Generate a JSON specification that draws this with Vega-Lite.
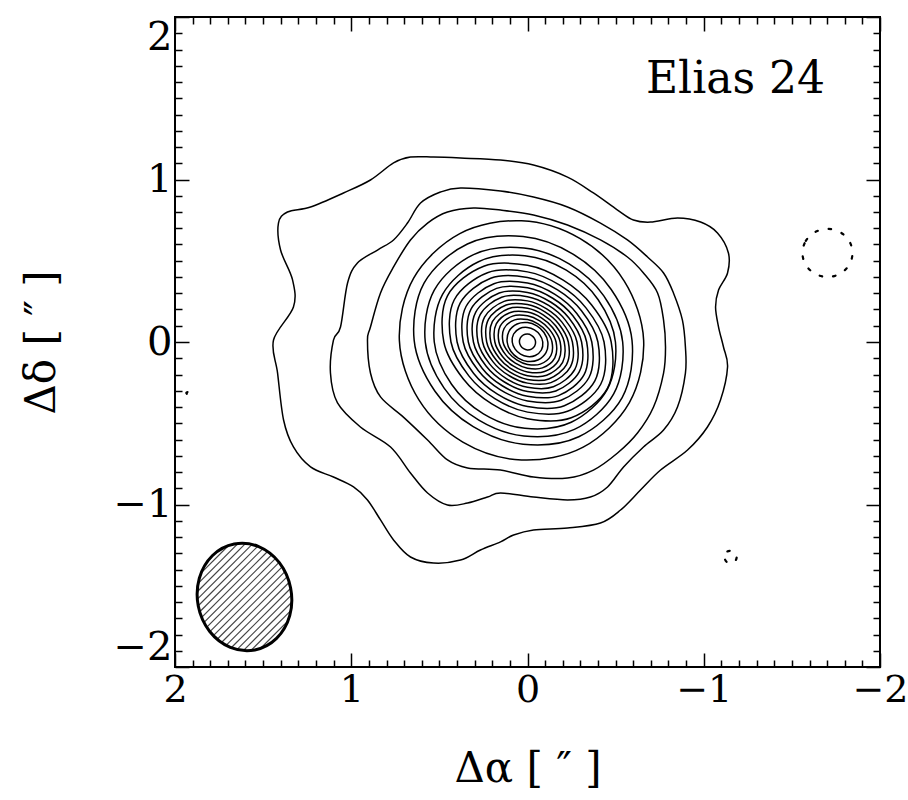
{
"$schema":"https://vega.github.io/schema/vega-lite/v6.json",
"width":705,"height":650,
"autosize":"none",
"padding":{"left":175,"top":17,"right":28,"bottom":133},
"background":"white",
"config":{"view":{"stroke":"black","strokeWidth":2},"font":"DejaVu Serif",
 "axis":{"tickColor":"black","tickWidth":1.5,"domain":false,"grid":false,"zindex":1,"labelColor":"black","titleColor":"black","labelFont":"DejaVu Serif","titleFont":"DejaVu Serif","titleFontWeight":"normal"}},
"datasets":{
"contours":[
{"c":1,"x":1.413,"y":0.732},{"c":1,"x":1.362,"y":0.80},{"c":1,"x":1.231,"y":0.831},{"c":1,"x":1.044,"y":0.917},{"c":1,"x":0.891,"y":0.997},{"c":1,"x":0.760,"y":1.102},{"c":1,"x":0.664,"y":1.138},{"c":1,"x":0.533,"y":1.138},{"c":1,"x":0.380,"y":1.132},{"c":1,"x":0.153,"y":1.120},{"c":1,"x":-0.034,"y":1.089},{"c":1,"x":-0.227,"y":1.015},{"c":1,"x":-0.374,"y":0.917},{"c":1,"x":-0.511,"y":0.812},{"c":1,"x":-0.601,"y":0.751},{"c":1,"x":-0.698,"y":0.738},{"c":1,"x":-0.851,"y":0.763},{"c":1,"x":-0.982,"y":0.738},{"c":1,"x":-1.078,"y":0.671},{"c":1,"x":-1.140,"y":0.548},{"c":1,"x":-1.135,"y":0.425},{"c":1,"x":-1.084,"y":0.320},{"c":1,"x":-1.067,"y":0.215},{"c":1,"x":-1.084,"y":0.092},{"c":1,"x":-1.112,"y":-0.031},{"c":1,"x":-1.135,"y":-0.154},{"c":1,"x":-1.095,"y":-0.357},{"c":1,"x":-1.021,"y":-0.523},{"c":1,"x":-0.908,"y":-0.665},{"c":1,"x":-0.755,"y":-0.788},{"c":1,"x":-0.641,"y":-0.911},{"c":1,"x":-0.528,"y":-1.034},{"c":1,"x":-0.414,"y":-1.114},{"c":1,"x":-0.227,"y":-1.145},{"c":1,"x":-0.034,"y":-1.157},{"c":1,"x":0.079,"y":-1.188},{"c":1,"x":0.153,"y":-1.230},{"c":1,"x":0.267,"y":-1.280},{"c":1,"x":0.380,"y":-1.342},{"c":1,"x":0.533,"y":-1.360},{"c":1,"x":0.664,"y":-1.323},{"c":1,"x":0.760,"y":-1.218},{"c":1,"x":0.834,"y":-1.095},{"c":1,"x":0.908,"y":-0.972},{"c":1,"x":0.987,"y":-0.892},{"c":1,"x":1.101,"y":-0.831},{"c":1,"x":1.231,"y":-0.769},{"c":1,"x":1.328,"y":-0.646},{"c":1,"x":1.384,"y":-0.480},{"c":1,"x":1.418,"y":-0.191},{"c":1,"x":1.441,"y":0.012},{"c":1,"x":1.328,"y":0.215},{"c":1,"x":1.333,"y":0.382},{"c":1,"x":1.401,"y":0.566},
{"c":2,"x":1.061,"y":0.092},{"c":2,"x":1.021,"y":0.363},{"c":2,"x":0.965,"y":0.486},{"c":2,"x":0.851,"y":0.566},{"c":2,"x":0.760,"y":0.628},{"c":2,"x":0.681,"y":0.732},{"c":2,"x":0.607,"y":0.855},{"c":2,"x":0.494,"y":0.923},{"c":2,"x":0.380,"y":0.948},{"c":2,"x":0.153,"y":0.929},{"c":2,"x":-0.034,"y":0.892},{"c":2,"x":-0.227,"y":0.831},{"c":2,"x":-0.414,"y":0.732},{"c":2,"x":-0.567,"y":0.628},{"c":2,"x":-0.681,"y":0.523},{"c":2,"x":-0.772,"y":0.425},{"c":2,"x":-0.828,"y":0.302},{"c":2,"x":-0.879,"y":0.135},{"c":2,"x":-0.896,"y":-0.031},{"c":2,"x":-0.896,"y":-0.191},{"c":2,"x":-0.851,"y":-0.400},{"c":2,"x":-0.772,"y":-0.542},{"c":2,"x":-0.658,"y":-0.646},{"c":2,"x":-0.545,"y":-0.769},{"c":2,"x":-0.454,"y":-0.892},{"c":2,"x":-0.357,"y":-0.954},{"c":2,"x":-0.227,"y":-0.972},{"c":2,"x":-0.034,"y":-0.954},{"c":2,"x":0.153,"y":-0.929},{"c":2,"x":0.227,"y":-0.954},{"c":2,"x":0.340,"y":-0.991},{"c":2,"x":0.454,"y":-1.003},{"c":2,"x":0.567,"y":-0.929},{"c":2,"x":0.664,"y":-0.806},{"c":2,"x":0.777,"y":-0.646},{"c":2,"x":0.948,"y":-0.523},{"c":2,"x":1.078,"y":-0.375},{"c":2,"x":1.118,"y":-0.191},{"c":2,"x":1.101,"y":0.012},
{"c":3,"x":0.891,"y":0.092},{"c":3,"x":0.834,"y":0.302},{"c":3,"x":0.760,"y":0.462},{"c":3,"x":0.664,"y":0.628},{"c":3,"x":0.567,"y":0.732},{"c":3,"x":0.454,"y":0.800},{"c":3,"x":0.306,"y":0.825},{"c":3,"x":0.153,"y":0.812},{"c":3,"x":-0.034,"y":0.782},{"c":3,"x":-0.227,"y":0.720},{"c":3,"x":-0.414,"y":0.628},{"c":3,"x":-0.567,"y":0.523},{"c":3,"x":-0.658,"y":0.425},{"c":3,"x":-0.738,"y":0.302},{"c":3,"x":-0.772,"y":0.135},{"c":3,"x":-0.783,"y":-0.031},{"c":3,"x":-0.772,"y":-0.191},{"c":3,"x":-0.715,"y":-0.400},{"c":3,"x":-0.624,"y":-0.560},{"c":3,"x":-0.511,"y":-0.683},{"c":3,"x":-0.374,"y":-0.788},{"c":3,"x":-0.227,"y":-0.837},{"c":3,"x":-0.034,"y":-0.831},{"c":3,"x":0.153,"y":-0.788},{"c":3,"x":0.340,"y":-0.775},{"c":3,"x":0.454,"y":-0.726},{"c":3,"x":0.567,"y":-0.603},{"c":3,"x":0.704,"y":-0.462},{"c":3,"x":0.834,"y":-0.338},{"c":3,"x":0.891,"y":-0.191},{"c":3,"x":0.908,"y":0.012},
{"c":4,"x":-0.659,"y":0.010},{"c":4,"x":-0.549,"y":0.375},{"c":4,"x":-0.299,"y":0.636},{"c":4,"x":0.034,"y":0.746},{"c":4,"x":0.384,"y":0.667},{"c":4,"x":0.646,"y":0.393},{"c":4,"x":0.727,"y":0.010},{"c":4,"x":0.617,"y":-0.355},{"c":4,"x":0.367,"y":-0.616},{"c":4,"x":0.034,"y":-0.726},{"c":4,"x":-0.316,"y":-0.647},{"c":4,"x":-0.578,"y":-0.373},
{"c":5,"x":-0.593,"y":0.010},{"c":5,"x":-0.475,"y":0.323},{"c":5,"x":-0.258,"y":0.541},{"c":5,"x":0.025,"y":0.649},{"c":5,"x":0.341,"y":0.603},{"c":5,"x":0.587,"y":0.362},{"c":5,"x":0.643,"y":0.010},{"c":5,"x":0.525,"y":-0.303},{"c":5,"x":0.308,"y":-0.521},{"c":5,"x":0.025,"y":-0.629},{"c":5,"x":-0.291,"y":-0.583},{"c":5,"x":-0.537,"y":-0.342},
{"c":6,"x":-0.540,"y":0},{"c":6,"x":-0.433,"y":0.284},{"c":6,"x":-0.236,"y":0.481},{"c":6,"x":0.020,"y":0.579},{"c":6,"x":0.306,"y":0.538},{"c":6,"x":0.529,"y":0.319},{"c":6,"x":0.580,"y":0},{"c":6,"x":0.473,"y":-0.284},{"c":6,"x":0.276,"y":-0.481},{"c":6,"x":0.020,"y":-0.579},{"c":6,"x":-0.266,"y":-0.538},{"c":6,"x":-0.489,"y":-0.319},
{"c":7,"x":-0.499,"y":0},{"c":7,"x":-0.401,"y":0.260},{"c":7,"x":-0.220,"y":0.442},{"c":7,"x":0.015,"y":0.531},{"c":7,"x":0.278,"y":0.494},{"c":7,"x":0.482,"y":0.293},{"c":7,"x":0.529,"y":0},{"c":7,"x":0.431,"y":-0.260},{"c":7,"x":0.250,"y":-0.442},{"c":7,"x":0.015,"y":-0.531},{"c":7,"x":-0.248,"y":-0.494},{"c":7,"x":-0.452,"y":-0.293},
{"c":8,"x":-0.4748,"y":0},{"c":8,"x":-0.3640,"y":0.2280},{"c":8,"x":-0.2027,"y":0.3807},{"c":8,"x":0,"y":0.4717},{"c":8,"x":0.2481,"y":0.4661},{"c":8,"x":0.4541,"y":0.2844},{"c":8,"x":0.4748,"y":0},{"c":8,"x":0.3640,"y":-0.2280},{"c":8,"x":0.2027,"y":-0.3807},{"c":8,"x":0,"y":-0.4717},{"c":8,"x":-0.2481,"y":-0.4661},{"c":8,"x":-0.4541,"y":-0.2844},
{"c":9,"x":-0.4343,"y":0},{"c":9,"x":-0.3329,"y":0.2085},{"c":9,"x":-0.1854,"y":0.3482},{"c":9,"x":0,"y":0.4315},{"c":9,"x":0.2270,"y":0.4263},{"c":9,"x":0.4154,"y":0.2601},{"c":9,"x":0.4343,"y":0},{"c":9,"x":0.3329,"y":-0.2085},{"c":9,"x":0.1854,"y":-0.3482},{"c":9,"x":0,"y":-0.4315},{"c":9,"x":-0.2270,"y":-0.4263},{"c":9,"x":-0.4154,"y":-0.2601},
{"c":10,"x":-0.3995,"y":0},{"c":10,"x":-0.3063,"y":0.1918},{"c":10,"x":-0.1706,"y":0.3204},{"c":10,"x":0,"y":0.3970},{"c":10,"x":0.2088,"y":0.3922},{"c":10,"x":0.3821,"y":0.2393},{"c":10,"x":0.3995,"y":0},{"c":10,"x":0.3063,"y":-0.1918},{"c":10,"x":0.1706,"y":-0.3204},{"c":10,"x":0,"y":-0.3970},{"c":10,"x":-0.2088,"y":-0.3922},{"c":10,"x":-0.3821,"y":-0.2393},
{"c":11,"x":-0.3648,"y":0},{"c":11,"x":-0.2797,"y":0.1751},{"c":11,"x":-0.1557,"y":0.2925},{"c":11,"x":0,"y":0.3624},{"c":11,"x":0.1906,"y":0.3581},{"c":11,"x":0.3489,"y":0.2185},{"c":11,"x":0.3648,"y":0},{"c":11,"x":0.2797,"y":-0.1751},{"c":11,"x":0.1557,"y":-0.2925},{"c":11,"x":0,"y":-0.3624},{"c":11,"x":-0.1906,"y":-0.3581},{"c":11,"x":-0.3489,"y":-0.2185},
{"c":12,"x":-0.3358,"y":0},{"c":12,"x":-0.2575,"y":0.1612},{"c":12,"x":-0.1434,"y":0.2693},{"c":12,"x":0,"y":0.3337},{"c":12,"x":0.1755,"y":0.3297},{"c":12,"x":0.3212,"y":0.2011},{"c":12,"x":0.3358,"y":0},{"c":12,"x":0.2575,"y":-0.1612},{"c":12,"x":0.1434,"y":-0.2693},{"c":12,"x":0,"y":-0.3337},{"c":12,"x":-0.1755,"y":-0.3297},{"c":12,"x":-0.3212,"y":-0.2011},
{"c":13,"x":-0.3069,"y":0},{"c":13,"x":-0.2353,"y":0.1473},{"c":13,"x":-0.1310,"y":0.2461},{"c":13,"x":0,"y":0.3049},{"c":13,"x":0.1604,"y":0.3013},{"c":13,"x":0.2935,"y":0.1838},{"c":13,"x":0.3069,"y":0},{"c":13,"x":0.2353,"y":-0.1473},{"c":13,"x":0.1310,"y":-0.2461},{"c":13,"x":0,"y":-0.3049},{"c":13,"x":-0.1604,"y":-0.3013},{"c":13,"x":-0.2935,"y":-0.1838},
{"c":14,"x":-0.2808,"y":0},{"c":14,"x":-0.2153,"y":0.1348},{"c":14,"x":-0.1199,"y":0.2252},{"c":14,"x":0,"y":0.2790},{"c":14,"x":0.1468,"y":0.2757},{"c":14,"x":0.2686,"y":0.1682},{"c":14,"x":0.2808,"y":0},{"c":14,"x":0.2153,"y":-0.1348},{"c":14,"x":0.1199,"y":-0.2252},{"c":14,"x":0,"y":-0.2790},{"c":14,"x":-0.1468,"y":-0.2757},{"c":14,"x":-0.2686,"y":-0.1682},
{"c":15,"x":-0.2548,"y":0},{"c":15,"x":-0.1953,"y":0.1223},{"c":15,"x":-0.1088,"y":0.2043},{"c":15,"x":0,"y":0.2531},{"c":15,"x":0.1331,"y":0.2501},{"c":15,"x":0.2437,"y":0.1526},{"c":15,"x":0.2548,"y":0},{"c":15,"x":0.1953,"y":-0.1223},{"c":15,"x":0.1088,"y":-0.2043},{"c":15,"x":0,"y":-0.2531},{"c":15,"x":-0.1331,"y":-0.2501},{"c":15,"x":-0.2437,"y":-0.1526},
{"c":16,"x":-0.2316,"y":0},{"c":16,"x":-0.1776,"y":0.1112},{"c":16,"x":-0.0989,"y":0.1857},{"c":16,"x":0,"y":0.2301},{"c":16,"x":0.1210,"y":0.2274},{"c":16,"x":0.2215,"y":0.1387},{"c":16,"x":0.2316,"y":0},{"c":16,"x":0.1776,"y":-0.1112},{"c":16,"x":0.0989,"y":-0.1857},{"c":16,"x":0,"y":-0.2301},{"c":16,"x":-0.1210,"y":-0.2274},{"c":16,"x":-0.2215,"y":-0.1387},
{"c":17,"x":-0.2084,"y":0},{"c":17,"x":-0.1598,"y":0.1001},{"c":17,"x":-0.0890,"y":0.1671},{"c":17,"x":0,"y":0.2071},{"c":17,"x":0.1089,"y":0.2046},{"c":17,"x":0.1994,"y":0.1248},{"c":17,"x":0.2084,"y":0},{"c":17,"x":0.1598,"y":-0.1001},{"c":17,"x":0.0890,"y":-0.1671},{"c":17,"x":0,"y":-0.2071},{"c":17,"x":-0.1089,"y":-0.2046},{"c":17,"x":-0.1994,"y":-0.1248},
{"c":18,"x":-0.1853,"y":0},{"c":18,"x":-0.1420,"y":0.0890},{"c":18,"x":-0.0791,"y":0.1486},{"c":18,"x":0,"y":0.1841},{"c":18,"x":0.0968,"y":0.1819},{"c":18,"x":0.1772,"y":0.1110},{"c":18,"x":0.1853,"y":0},{"c":18,"x":0.1420,"y":-0.0890},{"c":18,"x":0.0791,"y":-0.1486},{"c":18,"x":0,"y":-0.1841},{"c":18,"x":-0.0968,"y":-0.1819},{"c":18,"x":-0.1772,"y":-0.1110},
{"c":19,"x":-0.1621,"y":0},{"c":19,"x":-0.1243,"y":0.0778},{"c":19,"x":-0.0692,"y":0.1300},{"c":19,"x":0,"y":0.1611},{"c":19,"x":0.0847,"y":0.1592},{"c":19,"x":0.1551,"y":0.0971},{"c":19,"x":0.1621,"y":0},{"c":19,"x":0.1243,"y":-0.0778},{"c":19,"x":0.0692,"y":-0.1300},{"c":19,"x":0,"y":-0.1611},{"c":19,"x":-0.0847,"y":-0.1592},{"c":19,"x":-0.1551,"y":-0.0971},
{"c":20,"x":-0.1390,"y":0},{"c":20,"x":-0.1065,"y":0.0667},{"c":20,"x":-0.0593,"y":0.1114},{"c":20,"x":0,"y":0.1381},{"c":20,"x":0.0726,"y":0.1364},{"c":20,"x":0.1329,"y":0.0832},{"c":20,"x":0.1390,"y":0},{"c":20,"x":0.1065,"y":-0.0667},{"c":20,"x":0.0593,"y":-0.1114},{"c":20,"x":0,"y":-0.1381},{"c":20,"x":-0.0726,"y":-0.1364},{"c":20,"x":-0.1329,"y":-0.0832},
{"c":21,"x":-0.1154,"y":0},{"c":21,"x":-0.0935,"y":0.0585},{"c":21,"x":-0.0528,"y":0.0992},{"c":21,"x":0,"y":0.1194},{"c":21,"x":0.0590,"y":0.1109},{"c":21,"x":0.1050,"y":0.0658},{"c":21,"x":0.1154,"y":0},{"c":21,"x":0.0935,"y":-0.0585},{"c":21,"x":0.0528,"y":-0.0992},{"c":21,"x":0,"y":-0.1194},{"c":21,"x":-0.0590,"y":-0.1109},{"c":21,"x":-0.1050,"y":-0.0658},
{"c":22,"x":-0.0866,"y":0},{"c":22,"x":-0.0701,"y":0.0439},{"c":22,"x":-0.0396,"y":0.0744},{"c":22,"x":0,"y":0.0895},{"c":22,"x":0.0443,"y":0.0832},{"c":22,"x":0.0788,"y":0.0493},{"c":22,"x":0.0866,"y":0},{"c":22,"x":0.0701,"y":-0.0439},{"c":22,"x":0.0396,"y":-0.0744},{"c":22,"x":0,"y":-0.0895},{"c":22,"x":-0.0443,"y":-0.0832},{"c":22,"x":-0.0788,"y":-0.0493},
{"c":23,"x":-0.0458,"y":0},{"c":23,"x":-0.0385,"y":0.0241},{"c":23,"x":-0.0220,"y":0.0414},{"c":23,"x":0,"y":0.0487},{"c":23,"x":0.0231,"y":0.0434},{"c":23,"x":0.0405,"y":0.0253},{"c":23,"x":0.0458,"y":0},{"c":23,"x":0.0385,"y":-0.0241},{"c":23,"x":0.0220,"y":-0.0414},{"c":23,"x":0,"y":-0.0487},{"c":23,"x":-0.0231,"y":-0.0434},{"c":23,"x":-0.0405,"y":-0.0253}
],
"neg":[
{"c":"n1","x":-1.560,"y":0.548},{"c":"n1","x":-1.579,"y":0.622},{"c":"n1","x":-1.631,"y":0.676},{"c":"n1","x":-1.702,"y":0.696},{"c":"n1","x":-1.773,"y":0.676},{"c":"n1","x":-1.825,"y":0.622},{"c":"n1","x":-1.844,"y":0.548},{"c":"n1","x":-1.825,"y":0.474},{"c":"n1","x":-1.773,"y":0.420},{"c":"n1","x":-1.702,"y":0.400},{"c":"n1","x":-1.631,"y":0.420},{"c":"n1","x":-1.579,"y":0.474},
{"c":"n2","x":-1.117,"y":-1.323},{"c":"n2","x":-1.134,"y":-1.289},{"c":"n2","x":-1.170,"y":-1.289},{"c":"n2","x":-1.187,"y":-1.323},{"c":"n2","x":-1.170,"y":-1.357},{"c":"n2","x":-1.134,"y":-1.357},
{"c":"n3","x":1.922,"y":-0.314},{"c":"n3","x":1.929,"y":-0.308},{"c":"n3","x":1.936,"y":-0.314},{"c":"n3","x":1.929,"y":-0.320}
],
"beam":[
{"x":1.547,"y":-1.895},{"x":1.424,"y":-1.824},{"x":1.349,"y":-1.684},{"x":1.344,"y":-1.514},{"x":1.408,"y":-1.358},{"x":1.525,"y":-1.259},{"x":1.664,"y":-1.243},{"x":1.787,"y":-1.314},{"x":1.862,"y":-1.454},{"x":1.868,"y":-1.625},{"x":1.804,"y":-1.780},{"x":1.686,"y":-1.879}
],
"hatch":[
{"x1":1.4095,"y1":-1.3565,"x2":1.8018,"y2":-1.7820},
{"x1":1.3919,"y1":-1.3834,"x2":1.7822,"y2":-1.8068},
{"x1":1.8195,"y1":-1.7550,"x2":1.4292,"y2":-1.3317},
{"x1":1.3763,"y1":-1.4127,"x2":1.7604,"y2":-1.8293},
{"x1":1.8351,"y1":-1.7258,"x2":1.4510,"y2":-1.3092},
{"x1":1.3629,"y1":-1.4442,"x2":1.7364,"y2":-1.8494},
{"x1":1.8485,"y1":-1.6942,"x2":1.4750,"y2":-1.2891},
{"x1":1.3519,"y1":-1.4785,"x2":1.7101,"y2":-1.8670},
{"x1":1.8595,"y1":-1.6600,"x2":1.5013,"y2":-1.2715},
{"x1":1.3435,"y1":-1.5156,"x2":1.6810,"y2":-1.8815},
{"x1":1.8678,"y1":-1.6229,"x2":1.5304,"y2":-1.2569},
{"x1":1.3385,"y1":-1.5562,"x2":1.6487,"y2":-1.8927},
{"x1":1.8729,"y1":-1.5822,"x2":1.5626,"y2":-1.2458},
{"x1":1.3376,"y1":-1.6014,"x2":1.6122,"y2":-1.8991},
{"x1":1.8737,"y1":-1.5370,"x2":1.5991,"y2":-1.2393},
{"x1":1.3430,"y1":-1.6533,"x2":1.5695,"y2":-1.8990},
{"x1":1.8683,"y1":-1.4851,"x2":1.6419,"y2":-1.2395},
{"x1":1.3601,"y1":-1.7180,"x2":1.5151,"y2":-1.8861},
{"x1":1.8513,"y1":-1.4205,"x2":1.6963,"y2":-1.2524}
],
"lab":[{"t":"Elias 24","x":-1.18,"y":1.61}]
},
"layer":[
{"data":{"name":"contours"},
 "mark":{"type":"line","interpolate":"cardinal-closed","color":"black","strokeWidth":1.5},
 "encoding":{
  "x":{"field":"x","type":"quantitative","scale":{"domain":[2,-2],"nice":false,"zero":false},
   "axis":{"orient":"bottom","values":[-2,-1,0,1,2],"format":"d","tickSize":-14,
    "labelFontSize":38,"labelPadding":18,"labelFlush":false,"labelOverlap":false,"labelBound":false,
    "title":"Δα [ ″ ]","titleFontSize":42,"titlePadding":39}},
  "y":{"field":"y","type":"quantitative","scale":{"domain":[-2,2],"nice":false,"zero":false},
   "axis":{"orient":"left","values":[-2,-1,0,1,2],"format":"d","tickSize":-14,
    "labelFontSize":40,"labelPadding":17,"labelOverlap":false,"labelBound":false,"labelFlush":true,
    "title":"Δδ [ ″ ]","titleFontSize":42,"titlePadding":50}},
  "detail":{"field":"c","type":"nominal"},
  "order":{"value":null}}},
{"data":{"name":"neg"},
 "mark":{"type":"line","interpolate":"cardinal-closed","color":"black","strokeWidth":2.2,"strokeDash":[2.5,11],"strokeCap":"round"},
 "encoding":{
  "x":{"field":"x","type":"quantitative","scale":{"domain":[2,-2],"nice":false,"zero":false},
   "axis":{"orient":"top","values":[-2,-1,0,1,2],"tickSize":-14,"labels":false,"title":null}},
  "y":{"field":"y","type":"quantitative","scale":{"domain":[-2,2],"nice":false,"zero":false},
   "axis":{"orient":"right","values":[-2,-1,0,1,2],"tickSize":-14,"labels":false,"title":null}},
  "detail":{"field":"c","type":"nominal"},
  "order":{"value":null}}},
{"data":{"name":"hatch"},
 "mark":{"type":"rule","color":"#444","strokeWidth":1.2},
 "encoding":{
  "x":{"field":"x1","type":"quantitative","scale":{"domain":[2,-2],"nice":false,"zero":false},
   "axis":{"orient":"bottom","values":[-1.9,-1.8,-1.7,-1.6,-1.5,-1.4,-1.3,-1.2,-1.1,-0.9,-0.8,-0.7,-0.6,-0.5,-0.4,-0.3,-0.2,-0.1,0.1,0.2,0.3,0.4,0.5,0.6,0.7,0.8,0.9,1.1,1.2,1.3,1.4,1.5,1.6,1.7,1.8,1.9],"tickSize":-7,"labels":false,"title":null}},
  "y":{"field":"y1","type":"quantitative","scale":{"domain":[-2,2],"nice":false,"zero":false},
   "axis":{"orient":"left","values":[-1.9,-1.8,-1.7,-1.6,-1.5,-1.4,-1.3,-1.2,-1.1,-0.9,-0.8,-0.7,-0.6,-0.5,-0.4,-0.3,-0.2,-0.1,0.1,0.2,0.3,0.4,0.5,0.6,0.7,0.8,0.9,1.1,1.2,1.3,1.4,1.5,1.6,1.7,1.8,1.9],"tickSize":-7,"labels":false,"title":null}},
  "x2":{"field":"x2"},"y2":{"field":"y2"}}},
{"data":{"name":"beam"},
 "mark":{"type":"line","interpolate":"cardinal-closed","color":"black","strokeWidth":3},
 "encoding":{
  "x":{"field":"x","type":"quantitative","scale":{"domain":[2,-2],"nice":false,"zero":false},
   "axis":{"orient":"top","values":[-1.9,-1.8,-1.7,-1.6,-1.5,-1.4,-1.3,-1.2,-1.1,-0.9,-0.8,-0.7,-0.6,-0.5,-0.4,-0.3,-0.2,-0.1,0.1,0.2,0.3,0.4,0.5,0.6,0.7,0.8,0.9,1.1,1.2,1.3,1.4,1.5,1.6,1.7,1.8,1.9],"tickSize":-7,"labels":false,"title":null}},
  "y":{"field":"y","type":"quantitative","scale":{"domain":[-2,2],"nice":false,"zero":false},
   "axis":{"orient":"right","values":[-1.9,-1.8,-1.7,-1.6,-1.5,-1.4,-1.3,-1.2,-1.1,-0.9,-0.8,-0.7,-0.6,-0.5,-0.4,-0.3,-0.2,-0.1,0.1,0.2,0.3,0.4,0.5,0.6,0.7,0.8,0.9,1.1,1.2,1.3,1.4,1.5,1.6,1.7,1.8,1.9],"tickSize":-7,"labels":false,"title":null}},
  "order":{"value":null}}},
{"data":{"name":"lab"},
 "mark":{"type":"text","font":"DejaVu Serif","fontSize":44,"color":"black","align":"center","baseline":"middle"},
 "encoding":{
  "x":{"field":"x","type":"quantitative","axis":null},
  "y":{"field":"y","type":"quantitative","axis":null},
  "text":{"field":"t"}}}
],
"resolve":{"axis":{"x":"independent","y":"independent"}}
}
